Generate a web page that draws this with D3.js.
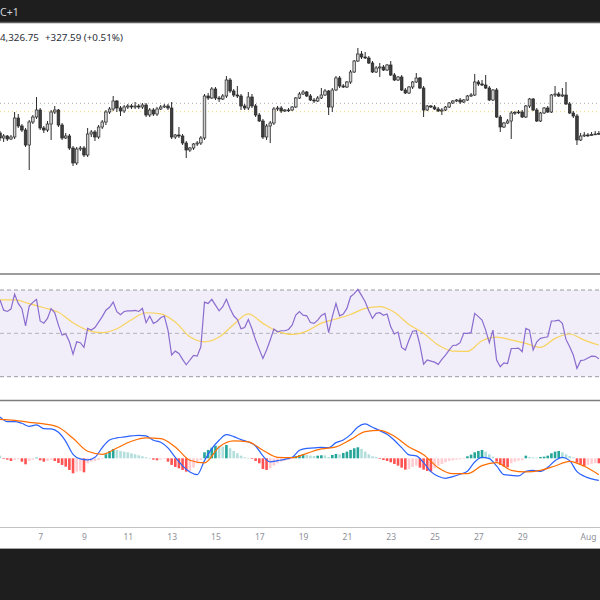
<!DOCTYPE html>
<html>
<head>
<meta charset="utf-8">
<script src="https://cdn.jsdelivr.net/npm/d3@7"></script>
<style>
  html, body { margin: 0; padding: 0; background: #fff; }
  svg { display: block; font-family: "Noto Sans", sans-serif; }
</style>
</head>
<body>
<svg id="chart" width="600" height="600"></svg>
<script>
// 4h candles, first one is Jul 5 04:00
const startTime = Date.UTC(2024, 6, 5, 4);
const stepMs = 4 * 3600 * 1000;

const open = [
  64350,64100,64200,64050,64150,65100,64700,64500,63750,64900,
  65150,65500,64600,64500,64800,65400,65500,64750,64100,64200,
  63600,62850,63550,63600,63250,64300,64400,64150,64650,64900,
  65400,65550,65950,65600,65450,65650,65700,65650,65700,65650,
  65750,65250,65500,65300,65550,65650,65700,65600,64150,64250,
  64200,63850,63500,63600,63800,63850,64100,66200,66100,66550,
  66100,66050,66200,67000,66450,66250,66200,65700,65600,66150,
  65700,65250,64950,64150,64700,64850,65550,65600,65450,65500,
  65500,65650,66100,66300,66400,66200,66000,65950,66100,66250,
  66450,65650,66500,67100,66700,66650,66900,67400,67950,68300,
  68150,68100,67850,67400,67600,67650,67500,67750,67250,67000,
  67150,66500,66350,66650,66900,67100,66600,65500,65700,65650,
  65550,65450,65500,65650,65850,65950,66000,65900,66000,66200,
  66250,66900,66800,66750,66600,66000,66500,65150,64650,64850,
  64950,65350,65380,65400,65150,65700,66050,65500,64950,65350,
  65600,65400,66250,66300,66200,66250,65800,65350,65200,64000,
  64200,64250,64230,64280,64300
];
const high = [
  64450,64300,64250,64250,65400,65300,64800,64600,65000,65250,
  66150,65600,64700,64950,65500,65700,65550,64850,64350,64300,
  63700,63650,63700,63700,64600,64500,64500,64750,65000,65500,
  65650,66200,66000,65700,65750,65800,65800,65900,65800,65850,
  65850,65600,65600,65650,65750,65800,65800,65900,64300,64650,
  64300,63950,63650,63850,63950,64200,66300,66350,66650,66650,
  66200,66300,67200,67100,66550,66700,66300,65800,66400,66300,
  65800,65350,65050,64800,64950,65650,65700,65700,65550,65600,
  65700,66150,66400,66500,66450,66300,66100,66200,66600,66550,
  66500,66600,67200,67200,66800,66950,67500,68000,68600,68450,
  68400,68200,67950,67700,67850,67750,67800,67950,67350,67200,
  67250,66600,66700,66950,67350,67150,66700,65750,65750,65750,
  65650,65600,65700,65900,66000,66050,66100,66050,66250,66350,
  67300,67000,67000,67250,66700,66550,66600,65250,64900,65050,
  65450,65450,65500,65500,65750,66100,66100,65600,65400,65650,
  65700,66300,66700,66400,66600,66900,65900,65450,65300,64350,
  64400,64350,64400,64450,64450
];
const low = [
  63950,63900,63950,64000,64050,64600,64400,63650,62500,64800,
  65050,64500,64350,64400,64000,65300,64650,64000,64050,63500,
  62700,62750,63450,63150,63150,64150,63950,64050,64550,64750,
  65300,65450,65400,65200,65350,65550,65550,65550,65550,65550,
  65150,65150,65200,65200,65500,65600,65500,64050,64050,64100,
  63750,63100,63400,63500,63700,63750,64000,66000,66050,66000,
  65900,66000,66100,66350,66150,66100,65500,65500,65500,65600,
  65150,64900,64050,64000,63850,64750,65450,65350,65400,65400,
  65450,65600,66050,66250,66150,65950,65850,65900,66050,66200,
  65250,65400,66450,66600,66600,66600,66800,67350,67900,68050,
  68050,67800,67350,67350,67150,67450,67450,67200,66950,66950,
  66450,66300,66300,66550,66850,66550,65150,65450,65600,65500,
  65400,65250,65450,65600,65800,65900,65800,65850,65950,66150,
  66200,66700,66700,66550,65950,65950,65100,64400,64600,64800,
  64050,65250,65300,65100,65100,65600,65450,64900,64900,65300,
  65350,65350,66150,66150,66150,65750,65300,65100,63750,63950,
  64150,64150,64200,64250,64250
];
const close = [
  64100,64200,64050,64150,65100,64700,64500,63750,64900,65150,
  65500,64600,64500,64800,65400,65500,64750,64100,64200,63600,
  62850,63550,63600,63250,64300,64400,64150,64650,64900,65400,
  65550,65950,65600,65450,65650,65700,65650,65700,65650,65750,
  65250,65500,65300,65550,65650,65700,65600,64150,64250,64200,
  63850,63500,63600,63800,63850,64100,66200,66100,66550,66100,
  66050,66200,67000,66450,66250,66200,65700,65600,66150,65700,
  65250,64950,64150,64700,64850,65550,65600,65450,65500,65500,
  65650,66100,66300,66400,66200,66000,65950,66100,66250,66450,
  65650,66500,67100,66700,66650,66900,67400,67950,68300,68150,
  68100,67850,67400,67600,67650,67500,67750,67250,67000,67150,
  66500,66350,66650,66900,67100,66600,65500,65700,65650,65550,
  65450,65500,65650,65850,65950,66000,65900,66000,66200,66250,
  66900,66800,66750,66600,66000,66500,65150,64650,64850,64950,
  65350,65380,65400,65150,65700,66050,65500,64950,65350,65600,
  65400,66250,66300,66200,66250,65800,65350,65200,64000,64200,
  64250,64230,64280,64300,64326.75
];

// RSI(14), one value per candle
const rsi = [
  65.4,60.7,60.1,61.2,68.1,63.8,61.4,53.4,62.6,64.3,
  65.7,55.7,54.7,56.9,61.4,59.5,53.8,49.2,49.7,46.1,
  40.4,46.1,45.7,43.5,52.3,51.5,52.7,55.2,57.7,60.7,
  62.0,64.4,60.0,58.6,60.1,60.4,60.4,60.6,60.1,61.5,
  54.9,58.0,54.6,55.5,57.2,58.0,51.5,40.0,41.8,40.7,
  38.0,35.5,37.7,39.8,39.5,43.8,64.4,63.8,65.7,63.0,
  60.4,62.3,65.7,61.5,58.1,56.4,52.1,52.7,56.4,52.1,
  46.9,42.6,38.4,42.3,46.9,52.0,50.7,51.2,51.2,51.8,
  53.8,58.4,60.0,58.4,58.1,55.0,54.6,56.1,58.3,59.2,
  50.3,57.7,63.8,58.1,58.9,61.5,66.9,68.3,70.3,67.5,
  64.6,60.4,56.9,59.2,59.5,58.3,58.9,53.0,49.7,50.6,
  43.5,42.3,46.9,51.0,51.2,44.6,35.8,37.7,37.2,36.7,
  35.7,38.0,40.0,42.3,44.4,44.6,45.7,50.0,50.0,50.3,
  59.2,57.7,56.1,51.5,45.7,51.5,37.7,34.6,36.4,36.1,
  43.0,43.0,43.2,41.5,52.3,51.5,42.3,46.1,47.7,48.1,
  48.4,55.7,55.8,56.1,54.6,47.2,43.8,40.0,33.8,37.4,
  37.7,38.6,39.5,39.4,38.3
];
// RSI-based MA, read every 4th candle
const rsiMaStep = 4;
const rsiMa = [
  65.4,65.4,63.7,61.8,59.7,54.9,51.4,50.3,52.1,56.3,59.5,59.0,55.2,48.4,
  46.1,48.3,54.1,59.0,54.6,50.9,49.5,51.0,54.7,56.6,58.7,61.5,62.3,59.7,
  54.1,50.0,44.6,41.8,41.7,46.6,48.3,47.0,45.4,43.5,47.7,49.7,46.9,44.6
];

// MACD line, read every 2nd candle
const macdStep = 2;
const macd = [
  827,733,733,700,640,667,593,587,520,340,80,-13,-33,20,213,367,407,427,447,460,447,
  360,320,207,20,-153,-273,-327,-47,193,360,473,433,373,327,247,47,-73,-47,-20,20,160,
  200,207,220,213,313,367,473,627,687,620,553,480,360,213,67,47,-87,-267,-360,-400,
  -367,-320,-260,-73,20,-7,-153,-327,-340,-353,-260,-240,-260,-180,-47,20,-47,-267,
  -360,-413,-440
];
// signal line, read every 4th candle
const signalStep = 4;
const signal = [
  780,760,720,687,620,400,140,80,207,340,407,393,227,-40,-93,227,347,327,160,20,13,
  100,187,227,373,533,560,440,227,73,-187,-307,-307,-147,-87,-240,-273,-240,-153,-60,-160,-327
];
// histogram, one bar per candle
const hist = [
  53,-7,-27,-53,-33,-20,-67,-120,-53,-27,
  13,-40,-67,-53,-33,-53,-93,-133,-167,-233,
  -300,-267,-253,-280,-100,-67,-53,-33,-13,80,
  147,187,167,147,133,120,100,80,60,40,
  20,7,-27,-40,-27,-13,-67,-133,-173,-200,
  -233,-267,-253,-187,-100,-33,120,167,213,253,
  247,233,267,200,147,100,53,20,7,-13,
  -53,-100,-213,-233,-200,-147,-100,-67,-47,-33,
  -13,47,67,80,67,53,47,53,60,57,
  27,67,87,80,107,133,167,200,220,187,
  133,80,40,27,-13,-33,-53,-80,-113,-147,
  -187,-227,-213,-173,-147,-187,-227,-253,-267,-200,
  -147,-113,-80,-53,-40,-27,-20,-7,40,73,
  120,147,167,133,80,33,-67,-133,-167,-180,
  -100,-67,-47,-40,53,27,20,13,27,33,
  53,100,133,147,120,80,47,20,-87,-113,
  -153,-133,-113,-100,-100
];

const tickDates = ["2024-07-07","2024-07-09","2024-07-11","2024-07-13","2024-07-15","2024-07-17",
  "2024-07-19","2024-07-21","2024-07-23","2024-07-25","2024-07-27","2024-07-29","2024-08-01"];
const tickLabels = ["7","9","11","13","15","17","19","21","23","25","27","29","Aug"];

// dotted reference levels on the price pane
const refLevels = [65835, 65415];
const refColors = ["#a9a9a9", "#f3d66b"];

const W = 600, H = 600;
const svg = d3.select("#chart");

// time scale shared by all panes
const x = d3.scaleUtc()
  .domain([new Date(startTime), new Date(Date.UTC(2024, 7, 1, 13, 14))])
  .range([0, W]);
const tOf = i => new Date(startTime + i * stepMs);

// pane boxes
const priceTop = 24, priceBottom = 273;
const rsiTop = 275, rsiBottom = 400;
const macdTop = 401, macdBottom = 527;

const yPrice = d3.scaleLinear().domain([57350, 69800]).range([priceBottom, priceTop]);
const yRsi = d3.scaleLinear().domain([30, 70]).range([376.7, 290]);
const yMacd = d3.scaleLinear().domain([-1374, 1146]).range([macdBottom, macdTop]);

const defs = svg.append("defs");
function addClip(id, y0, y1) {
  defs.append("clipPath").attr("id", id)
    .append("rect").attr("x", 0).attr("y", y0).attr("width", W).attr("height", y1 - y0);
}
addClip("clipPrice", priceTop, priceBottom);
addClip("clipRsi", rsiTop, rsiBottom);
addClip("clipMacd", macdTop, macdBottom);

svg.append("rect").attr("width", W).attr("height", H).attr("fill", "#ffffff");

// ---------- top bar ----------
svg.append("rect").attr("x", 0).attr("y", 0).attr("width", W).attr("height", 22).attr("fill", "#1e1e1e");
svg.append("line").attr("x1", 0).attr("x2", W).attr("y1", 22.5).attr("y2", 22.5)
  .attr("stroke", "#5f5f5f").attr("stroke-width", 1.5);
svg.append("text").attr("x", 0).attr("y", 16)
  .attr("font-size", 10.5).attr("fill", "#d1d4dc").text("C+1");

// ---------- price pane ----------
const gPrice = svg.append("g").attr("clip-path", "url(#clipPrice)");

gPrice.selectAll(".ref")
  .data(refLevels)
  .enter()
  .append("line")
  .attr("class", "ref")
  .attr("x1", 0).attr("x2", W)
  .attr("y1", d => yPrice(d)).attr("y2", d => yPrice(d))
  .attr("stroke", (d, i) => refColors[i])
  .attr("stroke-width", 1)
  .attr("stroke-dasharray", "1,3");

const candles = close.map((c, i) => ({ t: tOf(i), o: open[i], h: high[i], l: low[i], c: c }));
const bodyW = 2.6;

const cg = gPrice.selectAll(".candle")
  .data(candles)
  .enter()
  .append("g")
  .attr("class", "candle");

cg.append("line")
  .attr("x1", d => x(d.t)).attr("x2", d => x(d.t))
  .attr("y1", d => yPrice(d.h)).attr("y2", d => yPrice(d.l))
  .attr("stroke", "#2b2b2b").attr("stroke-width", 1);

cg.append("rect")
  .attr("x", d => x(d.t) - bodyW / 2)
  .attr("width", bodyW)
  .attr("y", d => yPrice(Math.max(d.o, d.c)))
  .attr("height", d => Math.max(0.8, Math.abs(yPrice(d.o) - yPrice(d.c))))
  .attr("fill", d => d.c >= d.o ? "#cfcfcf" : "#3d3d3d")
  .attr("stroke", "#262626")
  .attr("stroke-width", 0.7);

svg.append("text").attr("x", 0).attr("y", 41).attr("font-size", 9.8).attr("fill", "#2a2e39")
  .text("4,326.75");
svg.append("text").attr("x", 45).attr("y", 41).attr("font-size", 9.8).attr("fill", "#2a2e39")
  .text("+327.59 (+0.51%)");

svg.append("line").attr("x1", 0).attr("x2", W).attr("y1", 274).attr("y2", 274)
  .attr("stroke", "#7d7d7d").attr("stroke-width", 1.5);

// ---------- RSI pane ----------
const gRsi = svg.append("g").attr("clip-path", "url(#clipRsi)");

gRsi.append("rect")
  .attr("x", 0).attr("width", W)
  .attr("y", yRsi(70)).attr("height", yRsi(30) - yRsi(70))
  .attr("fill", "rgba(126,87,194,0.1)");

gRsi.selectAll(".band")
  .data([70, 50, 30])
  .enter()
  .append("line")
  .attr("class", "band")
  .attr("x1", 0).attr("x2", W)
  .attr("y1", d => yRsi(d)).attr("y2", d => yRsi(d))
  .attr("stroke", d => d === 50 ? "#b3b3bb" : "#9a9aa2")
  .attr("stroke-width", 1)
  .attr("stroke-dasharray", "4,3");

gRsi.append("path")
  .datum(rsiMa)
  .attr("fill", "none")
  .attr("stroke", "#f8d35e")
  .attr("stroke-width", 1.2)
  .attr("d", d3.line()
    .x((d, i) => x(tOf(i * rsiMaStep)))
    .y(d => yRsi(d))
    .curve(d3.curveMonotoneX));

gRsi.append("path")
  .datum(rsi)
  .attr("fill", "none")
  .attr("stroke", "#8a6ccf")
  .attr("stroke-width", 1.2)
  .attr("d", d3.line()
    .x((d, i) => x(tOf(i)))
    .y(d => yRsi(d)));

svg.append("line").attr("x1", 0).attr("x2", W).attr("y1", 400.5).attr("y2", 400.5)
  .attr("stroke", "#7d7d7d").attr("stroke-width", 1.5);

// ---------- MACD pane ----------
const gMacd = svg.append("g").attr("clip-path", "url(#clipMacd)");

function histColor(v, prev) {
  if (v >= 0) return prev < v ? "#26a69a" : "#b2dfdb";
  return prev < v ? "#ffcdd2" : "#ff5252";
}

gMacd.selectAll(".hbar")
  .data(hist)
  .enter()
  .append("rect")
  .attr("class", "hbar")
  .attr("x", (d, i) => x(tOf(i)) - 1.3)
  .attr("width", 2.6)
  .attr("y", d => Math.min(yMacd(d), yMacd(0)))
  .attr("height", d => Math.max(0.6, Math.abs(yMacd(d) - yMacd(0))))
  .attr("fill", (d, i) => histColor(d, i > 0 ? hist[i - 1] : d));

gMacd.append("path")
  .datum(macd)
  .attr("fill", "none")
  .attr("stroke", "#2962ff")
  .attr("stroke-width", 1.2)
  .attr("d", d3.line()
    .x((d, i) => x(tOf(i * macdStep)))
    .y(d => yMacd(d))
    .curve(d3.curveMonotoneX));

gMacd.append("path")
  .datum(signal)
  .attr("fill", "none")
  .attr("stroke", "#ff6d00")
  .attr("stroke-width", 1.2)
  .attr("d", d3.line()
    .x((d, i) => x(tOf(i * signalStep)))
    .y(d => yMacd(d))
    .curve(d3.curveMonotoneX));

// ---------- time axis ----------
svg.append("line").attr("x1", 0).attr("x2", W).attr("y1", 527.5).attr("y2", 527.5)
  .attr("stroke", "#c3c3c3").attr("stroke-width", 1);

const axis = d3.axisBottom(x)
  .tickValues(tickDates.map(s => new Date(s + "T00:00:00Z")))
  .tickFormat((d, i) => tickLabels[i])
  .tickSize(0)
  .tickPadding(0);

const gAxis = svg.append("g").attr("transform", "translate(0,534)").call(axis);
gAxis.select(".domain").remove();
gAxis.selectAll("text")
  .attr("font-size", 8.5)
  .attr("font-family", "Noto Sans, sans-serif")
  .attr("fill", "#8e9099");

svg.append("line").attr("x1", 0).attr("x2", W).attr("y1", 548.5).attr("y2", 548.5)
  .attr("stroke", "#a5a5a5").attr("stroke-width", 1);
svg.append("rect").attr("x", 0).attr("y", 549).attr("width", W).attr("height", H - 549)
  .attr("fill", "#1e1e1e");
</script>
</body>
</html>
